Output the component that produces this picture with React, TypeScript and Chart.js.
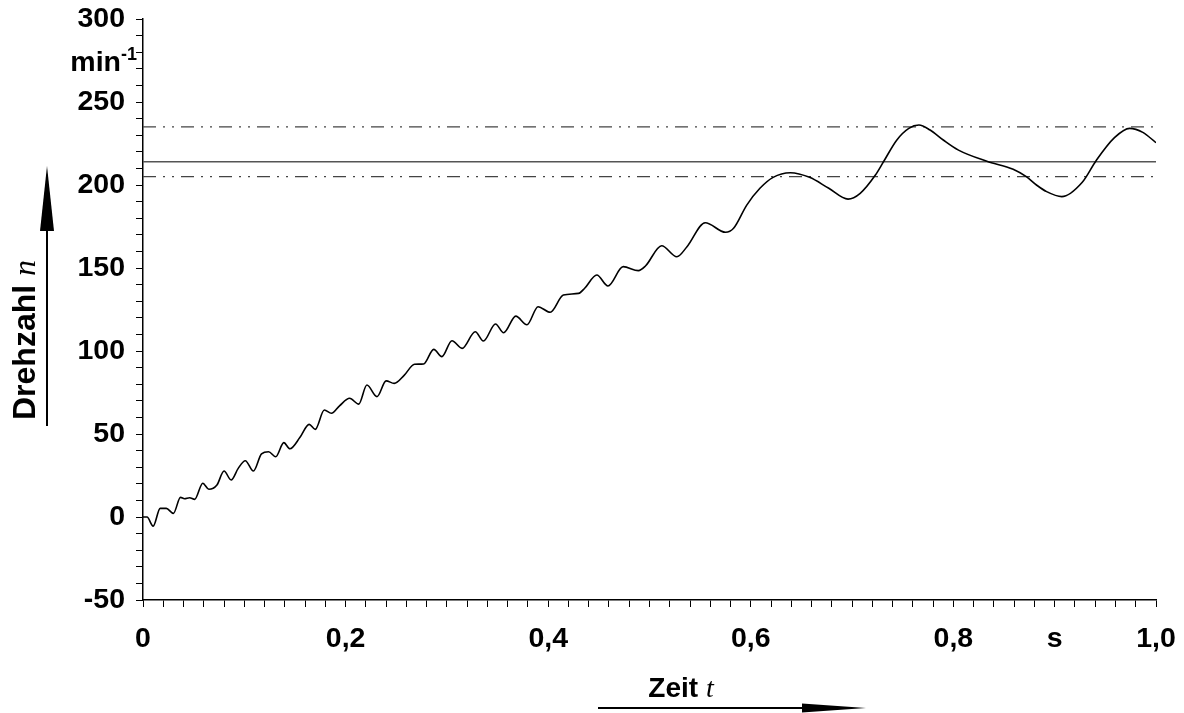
import React, { useEffect, useRef } from 'react';
import { Chart, registerables } from 'chart.js';

Chart.register(...registerables);

// Time in seconds
const timeS = [
  0, 0.004, 0.01, 0.017, 0.023, 0.03, 0.037, 0.041, 0.046, 0.051,
  0.059, 0.065, 0.073, 0.08, 0.087, 0.094, 0.101, 0.109, 0.117, 0.124,
  0.131, 0.139, 0.145, 0.155, 0.164, 0.17, 0.179, 0.186, 0.194, 0.204,
  0.213, 0.221, 0.231, 0.24, 0.248, 0.258, 0.268, 0.277, 0.287, 0.295,
  0.305, 0.315, 0.328, 0.336, 0.348, 0.356, 0.368, 0.379, 0.39, 0.402,
  0.415, 0.43, 0.436, 0.448, 0.459, 0.474, 0.489, 0.496, 0.512, 0.527,
  0.537, 0.555, 0.575, 0.583, 0.596, 0.609, 0.622, 0.639, 0.658, 0.677,
  0.696, 0.708, 0.723, 0.731, 0.744, 0.756, 0.766, 0.777, 0.79, 0.805,
  0.833, 0.859, 0.872, 0.882, 0.892, 0.907, 0.927, 0.941, 0.959, 0.974,
  0.987, 1.0,
];

// Drehzahl n in min^-1
const speed = [
  0, 0, -5.5, 5.2, 5.2, 2.2, 11.8, 11, 11.6, 10.6,
  20.3, 16.7, 19.3, 27.7, 22.3, 29.3, 33.9, 27.7, 38, 39.3,
  36.3, 44.8, 41.1, 48, 55.8, 52.8, 64.5, 62.5, 67, 71.5,
  68, 79.5, 72.5, 82, 80.5, 85.5, 92, 92.2, 101, 96.6,
  106.2, 101.6, 111.6, 106, 116.3, 111, 121, 115.8, 126.7, 123.3,
  133.7, 134.7, 137.8, 145.8, 139.2, 150.8, 148.4, 151.2, 163.4, 156.8,
  162.8, 177.3, 171.5, 173.9, 187.9, 198, 204.6, 207.4, 204.6, 198,
  191.5, 195, 206, 214, 227, 234.1, 236.1, 233.1, 227.1, 221,
  214.3, 209.5, 205, 200, 196, 193, 201.5, 214.8, 228.5, 234.1,
  231.7, 225.5,
];

const upperLimit = 235;
const nominalSpeed = 214;
const lowerLimit = 205;

// x tick labels, keyed by index of 0.02 s step
const xTickLabels: Record<number, string> = {
  0: '0', 10: '0,2', 20: '0,4', 30: '0,6', 40: '0,8', 45: 's', 50: '1,0',
};
const yTickLabelValues = [-50, 0, 50, 100, 150, 200, 250, 300];
const yUnitText = 'min';
const yUnitExp = '-1';
const yTitleText = 'Drehzahl ';
const yTitleSymbol = 'n';
const xTitleText = 'Zeit ';
const xTitleSymbol = 't';

const SANS = "'Liberation Sans', Arial, Helvetica, sans-serif";
const SERIF = "'Liberation Serif', 'Times New Roman', serif";
const TICK_SIZE = 28.5;

const decorPlugin = {
  id: 'decor',
  afterDraw(chart: any) {
    const ctx: CanvasRenderingContext2D = chart.ctx;
    const yS = chart.scales.y;
    ctx.save();
    ctx.fillStyle = '#000';
    ctx.strokeStyle = '#000';

    // unit min^-1 on y axis
    const yTop = yS.getPixelForValue(300);
    ctx.textAlign = 'right';
    ctx.textBaseline = 'alphabetic';
    ctx.font = `bold 18px ${SANS}`;
    const expW = ctx.measureText(yUnitExp).width;
    const unitRight = yS.right - 6;
    ctx.fillText(yUnitExp, unitRight, yTop + 41);
    ctx.font = `bold ${TICK_SIZE}px ${SANS}`;
    ctx.fillText(yUnitText, unitRight - expW, yTop + 52);

    // y title rotated
    ctx.save();
    ctx.translate(35, 340);
    ctx.rotate(-Math.PI / 2);
    ctx.textAlign = 'left';
    ctx.font = `bold 32px ${SANS}`;
    const w1 = ctx.measureText(yTitleText).width;
    ctx.font = `italic 32px ${SERIF}`;
    const w2 = ctx.measureText(yTitleSymbol).width;
    const start = -(w1 + w2) / 2;
    ctx.font = `bold 32px ${SANS}`;
    ctx.fillText(yTitleText, start, 0);
    ctx.font = `italic 32px ${SERIF}`;
    ctx.fillText(yTitleSymbol, start + w1, 0);
    ctx.restore();

    // y arrow
    ctx.lineWidth = 2;
    ctx.beginPath();
    ctx.moveTo(47, 426);
    ctx.lineTo(47, 220);
    ctx.stroke();
    ctx.beginPath();
    ctx.moveTo(47, 166);
    ctx.lineTo(40, 231);
    ctx.lineTo(54, 231);
    ctx.closePath();
    ctx.fill();

    // x title
    ctx.textAlign = 'left';
    ctx.font = `bold 28px ${SANS}`;
    const xw1 = ctx.measureText(xTitleText).width;
    ctx.font = `italic 28px ${SERIF}`;
    const xw2 = ctx.measureText(xTitleSymbol).width;
    const cx = 681;
    const xs = cx - (xw1 + xw2) / 2;
    ctx.font = `bold 28px ${SANS}`;
    ctx.fillText(xTitleText, xs, 697);
    ctx.font = `italic 28px ${SERIF}`;
    ctx.fillText(xTitleSymbol, xs + xw1, 697);

    // x arrow
    ctx.beginPath();
    ctx.moveTo(598, 708);
    ctx.lineTo(820, 708);
    ctx.stroke();
    ctx.beginPath();
    ctx.moveTo(866, 708);
    ctx.lineTo(802, 703.5);
    ctx.lineTo(802, 712.5);
    ctx.closePath();
    ctx.fill();

    ctx.restore();
  },
};

export default function App() {
  const canvasRef = useRef<HTMLCanvasElement | null>(null);

  useEffect(() => {
    document.body.style.margin = '0';
    const canvas = canvasRef.current;
    if (!canvas) return;
    const dash = [13, 7, 2, 7, 2, 7];
    const chart = new Chart(canvas, {
      type: 'line',
      data: {
        datasets: [
          {
            data: timeS.map((t, i) => ({ x: t, y: speed[i] })),
            borderColor: '#000',
            borderWidth: 1.6,
            pointRadius: 0,
            cubicInterpolationMode: 'monotone',
            fill: false,
          },
          {
            data: [{ x: 0, y: upperLimit }, { x: 1, y: upperLimit }],
            borderColor: '#444',
            borderWidth: 1.2,
            borderDash: dash,
            pointRadius: 0,
            fill: false,
          },
          {
            data: [{ x: 0, y: nominalSpeed }, { x: 1, y: nominalSpeed }],
            borderColor: '#555',
            borderWidth: 1.3,
            pointRadius: 0,
            fill: false,
          },
          {
            data: [{ x: 0, y: lowerLimit }, { x: 1, y: lowerLimit }],
            borderColor: '#444',
            borderWidth: 1.2,
            borderDash: dash,
            pointRadius: 0,
            fill: false,
          },
        ],
      },
      options: {
        animation: false,
        responsive: false,
        maintainAspectRatio: false,
        layout: { padding: { left: 0, top: 19, right: 28, bottom: 0 } },
        plugins: { legend: { display: false }, tooltip: { enabled: false } },
        scales: {
          x: {
            type: 'linear',
            min: 0,
            max: 1,
            afterFit: (scale: any) => {
              scale.height = 113;
              scale.paddingLeft = 0;
              scale.paddingRight = 0;
            },
            border: { display: true, color: '#000', width: 1.5 },
            grid: {
              display: true,
              drawOnChartArea: false,
              drawTicks: true,
              tickLength: 7,
              color: '#000',
              tickColor: '#000',
              lineWidth: 1,
            },
            ticks: {
              stepSize: 0.02,
              maxTicksLimit: 100,
              autoSkip: false,
              maxRotation: 0,
              minRotation: 0,
              padding: 15,
              color: '#000',
              font: { family: SANS, size: TICK_SIZE, weight: 'bold' },
              callback: (v: any) => {
                const i = Math.round(Number(v) * 50);
                return xTickLabels[i] ?? '';
              },
            },
          },
          y: {
            type: 'linear',
            min: -50,
            max: 300,
            afterFit: (scale: any) => {
              scale.width = 143;
              scale.paddingTop = 0;
              scale.paddingBottom = 0;
            },
            border: { display: true, color: '#000', width: 1.5 },
            grid: {
              display: true,
              drawOnChartArea: false,
              drawTicks: true,
              tickLength: 7,
              color: '#000',
              tickColor: '#000',
              lineWidth: 1,
            },
            ticks: {
              stepSize: 10,
              maxTicksLimit: 100,
              autoSkip: false,
              padding: 11,
              color: '#000',
              font: { family: SANS, size: TICK_SIZE, weight: 'bold' },
              callback: (v: any) => {
                const n = Math.round(Number(v));
                return yTickLabelValues.includes(n) ? String(n) : '';
              },
            },
          },
        },
      },
      plugins: [decorPlugin],
    } as any);
    return () => chart.destroy();
  }, []);

  return (
    <div style={{ width: 1184, height: 713, background: '#fff' }}>
      <canvas ref={canvasRef} width={1184} height={713} style={{ display: 'block' }} />
    </div>
  );
}
